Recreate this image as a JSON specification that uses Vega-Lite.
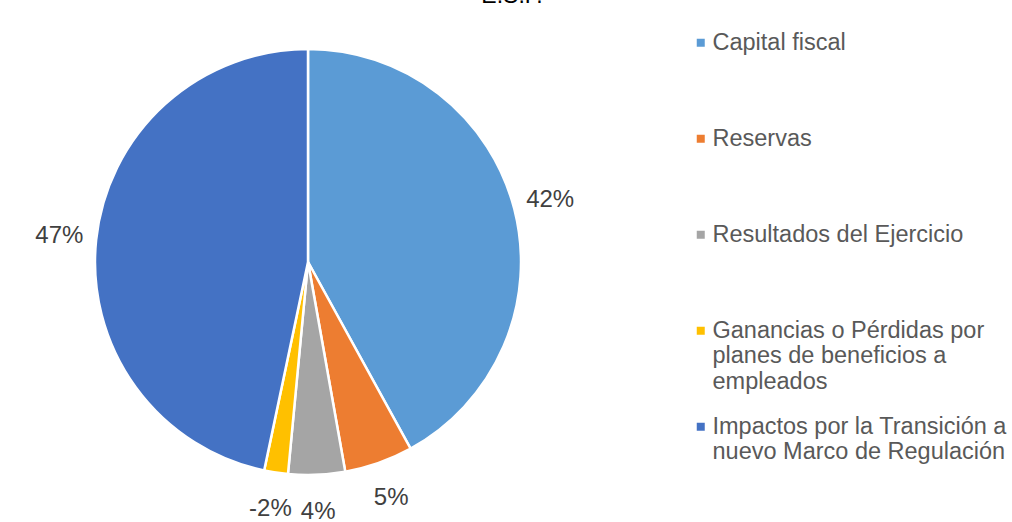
{
  "$schema": "https://vega.github.io/schema/vega-lite/v6.json",
  "width": 596,
  "height": 492,
  "autosize": {"type": "none"},
  "padding": {"left": 10, "top": 16, "right": 406, "bottom": 14},
  "background": "white",
  "title": {"text": "E.S.F.", "anchor": "middle", "dx": 204, "offset": 8, "fontSize": 23, "font": "Liberation Sans", "fontWeight": "normal", "color": "#000000"},
  "config": {"view": {"stroke": null}},
  "data": {
    "values": [
      {"categoria": "Capital fiscal", "porcentaje": 42.0, "orden": 1},
      {"categoria": "Reservas", "porcentaje": 5.2, "orden": 2},
      {"categoria": "Resultados del Ejercicio", "porcentaje": 4.3, "orden": 3},
      {"categoria": "Ganancias o Pérdidas por planes de beneficios a empleados", "porcentaje": -1.8, "orden": 4},
      {"categoria": "Impactos por la Transición a nuevo Marco de Regulación", "porcentaje": 46.7, "orden": 5}
    ]
  },
  "transform": [
    {"calculate": "abs(datum.porcentaje)", "as": "magnitud"},
    {"calculate": "(datum.porcentaje < 0 ? '-' : '') + format(abs(datum.porcentaje), '.0f') + '%'", "as": "etiqueta"}
  ],
  "encoding": {
    "theta": {"field": "magnitud", "type": "quantitative", "stack": true},
    "order": {"field": "orden", "type": "quantitative"},
    "color": {
      "field": "categoria",
      "type": "nominal",
      "sort": ["Capital fiscal", "Reservas", "Resultados del Ejercicio", "Ganancias o Pérdidas por planes de beneficios a empleados", "Impactos por la Transición a nuevo Marco de Regulación"],
      "scale": {
        "domain": ["Capital fiscal", "Reservas", "Resultados del Ejercicio", "Ganancias o Pérdidas por planes de beneficios a empleados", "Impactos por la Transición a nuevo Marco de Regulación"],
        "range": ["#5B9BD5", "#ED7D31", "#A5A5A5", "#FFC000", "#4472C4"]
      },
      "legend": {
        "orient": "none",
        "legendX": 679,
        "legendY": 15,
        "title": null,
        "symbolType": "square",
        "symbolSize": 64,
        "symbolStrokeWidth": 0,
        "symbolOpacity": 1,
        "labelFont": "Liberation Sans",
        "labelFontSize": 23.5,
        "labelColor": "#595959",
        "labelBaseline": "middle",
        "labelOffset": 0,
        "labelLimit": 400,
        "rowPadding": 20,
        "gridAlign": "all",
        "padding": 0,
        "labelExpr": "datum.label == 'Ganancias o Pérdidas por planes de beneficios a empleados' ? ['Ganancias o Pérdidas por', 'planes de beneficios a', 'empleados'] : datum.label == 'Impactos por la Transición a nuevo Marco de Regulación' ? ['Impactos por la Transición a', 'nuevo Marco de Regulación'] : datum.label"
      }
    }
  },
  "layer": [
    {"mark": {"type": "arc", "outerRadius": 213, "stroke": "white", "strokeWidth": 2.5}},
    {
      "mark": {"type": "text", "radius": 250, "fontSize": 24, "font": "Liberation Sans"},
      "encoding": {"text": {"field": "etiqueta", "type": "nominal"}, "color": {"value": "#404040"}}
    }
  ]
}
